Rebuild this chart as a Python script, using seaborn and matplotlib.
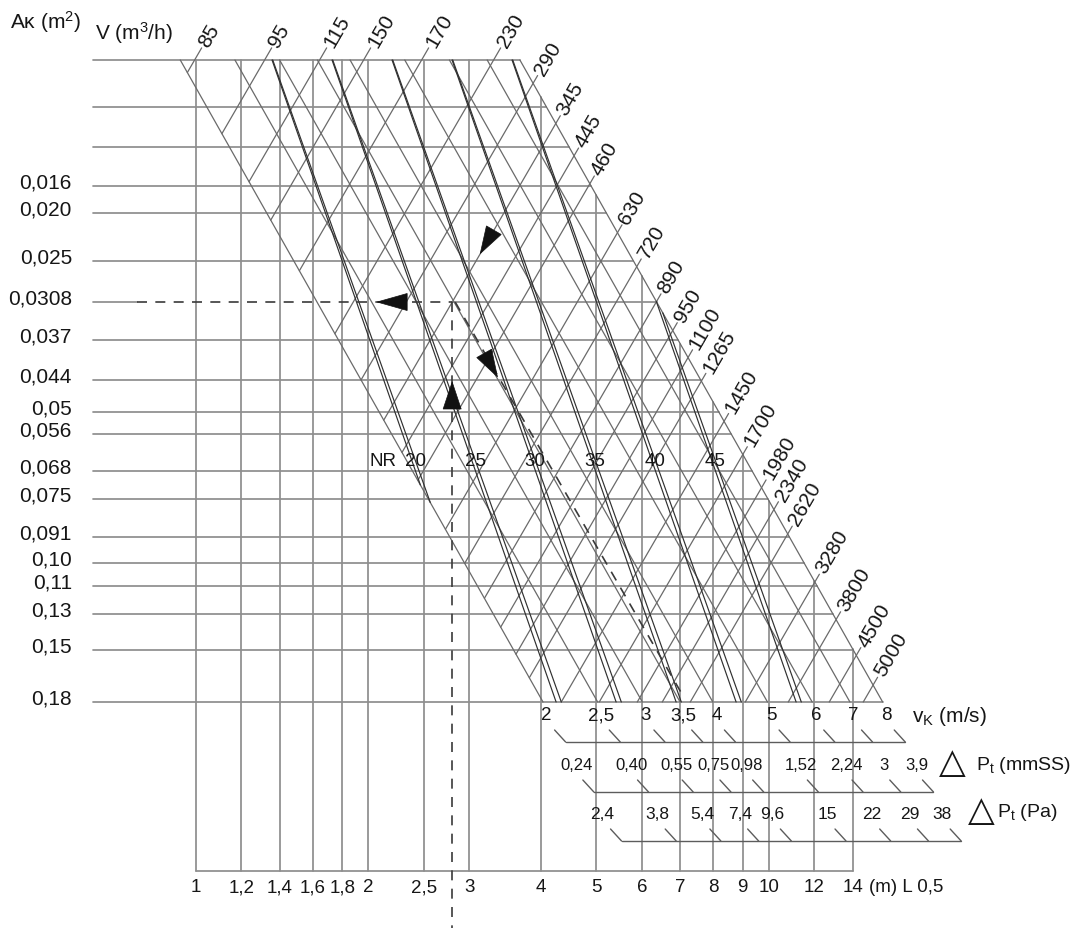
import numpy as np
import pandas as pd
import matplotlib
matplotlib.use("Agg")
import matplotlib.pyplot as plt
from matplotlib.patches import Polygon
import seaborn as sns

# ---------------- chart values ----------------
ak_labels = ["0,016", "0,020", "0,025", "0,0308", "0,037", "0,044", "0,05", "0,056",
             "0,068", "0,075", "0,091", "0,10", "0,11", "0,13", "0,15", "0,18"]

l_values = [1, 1.2, 1.4, 1.6, 1.8, 2, 2.5, 3, 4, 5, 6, 7, 8, 9, 10, 12, 14]
l_labels = ["1", "1,2", "1,4", "1,6", "1,8", "2", "2,5", "3", "4", "5", "6", "7",
            "8", "9", "10", "12", "14"]

vk_values = [2, 2.5, 3, 3.5, 4, 5, 6, 7, 8]
vk_labels = ["2", "2,5", "3", "3,5", "4", "5", "6", "7", "8"]
dp_mmss_labels = ["0,24", "0,40", "0,55", "0,75", "0,98", "1,52", "2,24", "3", "3,9"]
dp_pa_labels = ["2,4", "3,8", "5,4", "7,4", "9,6", "15", "22", "29", "38"]

v_labels = ["85", "95", "115", "150", "170", "230", "290", "345", "445", "460", "630",
            "720", "890", "950", "1100", "1265", "1450", "1700", "1980", "2340", "2620",
            "3280", "3800", "4500", "5000"]

nr_values = [20, 25, 30, 35, 40, 45]

# worked example traced with dashed lines
ex_v = "345"
ex_ak = "0,0308"
ex_l = 2.8
ex_vk = 3.5

# ---------------- sheet geometry (chart units, y grows downward) ----------------
W, H = 1075, 929
X_LEFT = 93.0
Y_TOP, Y_BOT = 61.0, 703.0
Y_LAXIS = 872.0
blank_rows = [61, 108, 148]
ak_rows = [187, 214, 262, 303, 341, 381, 413, 435, 472, 500, 538, 564, 587, 615, 651, 703]
# where each flow line meets the sheet (x + K_V*y = const)
v_line_c = [230, 300, 355, 399, 457, 529, 582, 628, 665, 697, 753, 792, 832, 865, 896,
            923, 969, 1007, 1045, 1070, 1098, 1153, 1196, 1237, 1271]

X_L0, S_L = 196.0, 248.8      # throw scale  x = X_L0 + S_L*ln(L)
X_V0, S_V = 543.0, 245.0      # velocity scale along the bottom edge
K_VK = 0.565                  # slope (dx/dy) of the velocity lines
K_V = 0.58                    # slope (-dx/dy) of the flow lines
K_NR = 0.349                  # slope of the noise rating lines
Y_NR = 462.0
NR_X0, NR_STEP = 412.0, 12.0

FS_MAIN = 15
FS_SMALL = 13.5
FS_SCALE = 12
INK = "#161616"


def lpos(L):
    return X_L0 + S_L * np.log(L)


def vkpos(v):
    return X_V0 + S_V * np.log(v / 2.0)


XL0 = vkpos(vk_values[0]) - K_VK * Y_BOT
XR0 = vkpos(vk_values[-1]) - K_VK * Y_BOT


def left_edge(y):
    return XL0 + K_VK * y


def right_edge(y):
    return XR0 + K_VK * y


sns.set_theme(style="white")
plt.rcParams["font.family"] = ["Liberation Sans", "DejaVu Sans"]
plt.rcParams["mathtext.fontset"] = "custom"
plt.rcParams["mathtext.rm"] = "Liberation Sans"
plt.rcParams["mathtext.it"] = "Liberation Sans:italic"
plt.rcParams["mathtext.bf"] = "Liberation Sans:bold"

fig = plt.figure(figsize=(W / 100, H / 100), dpi=100)
ax = fig.add_axes([0, 0, 1, 1])

rows = []


def seg(kind, x0, y0, x1, y1):
    sid = len(rows) // 2
    rows.append((kind, sid, x0, y0))
    rows.append((kind, sid, x1, y1))


# worked example point
ex_row = ak_rows[ak_labels.index(ex_ak)]
px, py = lpos(ex_l), ex_row

# Ak rows
for y in blank_rows + ak_rows:
    if y == ex_row:
        seg("grid", X_LEFT, y, 137, y)
        seg("grid", px, y, right_edge(y), y)
    else:
        seg("grid", X_LEFT, y, right_edge(y), y)

# throw verticals and axis
for L in l_values:
    x = lpos(L)
    y0 = Y_TOP if x <= right_edge(Y_TOP) else (x - XR0) / K_VK
    seg("grid", x, y0, x, Y_LAXIS)
seg("grid", lpos(l_values[0]), Y_LAXIS, lpos(l_values[-1]), Y_LAXIS)

# velocity lines
for v in vk_values:
    xb = vkpos(v)
    seg("mesh", xb - K_VK * (Y_BOT - Y_TOP), Y_TOP, xb, Y_BOT)

# flow lines with their labels
u = np.array([K_V, -1.0]) / np.hypot(K_V, 1.0)
for c, lab in zip(v_line_c, v_labels):
    y_lo = min(Y_BOT, (c - XL0) / (K_V + K_VK))
    x_lo = c - K_V * y_lo
    yr = (c - XR0) / (K_V + K_VK)
    if yr > Y_TOP:
        y_hi, ext = yr, 9.0
    else:
        y_hi, ext = Y_TOP, 14.0
    x_hi = c - K_V * y_hi
    ex, ey = x_hi + u[0] * ext, y_hi + u[1] * ext
    seg("mesh", x_lo, y_lo, ex, ey)
    ax.text(ex + u[0] * 3, ey + u[1] * 3, lab, rotation=60, rotation_mode="anchor",
            ha="left", va="center", fontsize=FS_MAIN, color=INK)


def clipped_nr(b, k):
    """Noise rating line x = b + k*y clipped to the sheet."""
    y0 = Y_TOP
    if b + k * Y_TOP > right_edge(Y_TOP):
        y0 = (b - XR0) / (K_VK - k)
    y1 = Y_BOT
    if b + k * Y_BOT < left_edge(Y_BOT):
        y1 = (b - XL0) / (K_VK - k)
    return b + k * y0, y0, b + k * y1, y1


# noise rating lines (each drawn as a close pair)
for nr in nr_values:
    a = NR_X0 + NR_STEP * (nr - 20)
    b = a - K_NR * Y_NR
    seg("dark", *clipped_nr(b, K_NR))
    k2 = K_NR + 0.007
    b2 = (a + 3.5) - k2 * Y_NR
    seg("dark", *clipped_nr(b2, k2))
    ax.text(a + 3, Y_NR, str(nr), ha="center", va="center", fontsize=FS_SMALL, color=INK)
ax.text(383, Y_NR, "NR", ha="center", va="center", fontsize=FS_SMALL, color=INK)

# velocity / pressure scales under the sheet: (labels, row y, label shift, font size)
scale_rows = [(vk_labels, 743.0, -19, FS_SMALL),
              (dp_mmss_labels, 793.0, -17, FS_SCALE),
              (dp_pa_labels, 842.0, -19, FS_SCALE + 0.5)]
for labels, yr, shift, fs in scale_rows:
    xs = [vkpos(v) + K_VK * (yr - Y_BOT) for v in vk_values]
    seg("scale", xs[0], yr, xs[-1], yr)
    for x, lab in zip(xs, labels):
        seg("scale", x - 11, yr - 12, x, yr)
        ax.text(x + shift, yr - 27, lab, ha="center", va="center", fontsize=fs,
                color=INK)

df = pd.DataFrame(rows, columns=["kind", "seg", "x", "y"])
styles = {
    "grid": ("#8e8e8e", 1.25),
    "mesh": ("#6a6a6a", 0.9),
    "scale": ("#5c5c5c", 1.0),
    "dark": ("#303030", 0.85),
}
for kind, (col, lw) in styles.items():
    sub = df[df["kind"] == kind]
    sns.lineplot(data=sub, x="x", y="y", units="seg", estimator=None, sort=False,
                 color=col, linewidth=lw, ax=ax, legend=False)

# dashed trace of the example
dash_rows = []
for sid, (x0, y0, x1, y1) in enumerate([
        (137, py, px, py),
        (px, py, px, H),
        (px + 3, py, vkpos(ex_vk) + 3, Y_BOT - 6)]):
    dash_rows += [(sid, x0, y0), (sid, x1, y1)]
dash_df = pd.DataFrame(dash_rows, columns=["seg", "x", "y"])
sns.lineplot(data=dash_df, x="x", y="y", units="seg", estimator=None, sort=False,
             color="#3a3a3a", linewidth=1.2, linestyle=(0, (6, 5)), ax=ax, legend=False)


def arrow(tip, d, length, width):
    d = np.asarray(d, float)
    d = d / np.hypot(*d)
    n = np.array([-d[1], d[0]])
    tip = np.asarray(tip, float)
    base = tip - d * length
    ax.add_patch(Polygon([tip, base + n * width / 2, base - n * width / 2],
                         closed=True, facecolor="#111111", edgecolor="#111111", lw=0.5,
                         zorder=5))


p = np.array([px, py])
dvk = np.array([K_VK, 1.0]) / np.hypot(K_VK, 1.0)
arrow(p + u * 56, -u, 27, 17)
arrow(p + np.array([-75.0, 0.0]), (-1, 0), 30, 17)
arrow(p + np.array([3.0, 0.0]) + dvk * 86, dvk, 27, 17)
arrow(p + np.array([0.0, 80.0]), (0, -1), 27, 18)

# Ak labels and headers
for y, lab in zip(ak_rows, ak_labels):
    ax.text(72, y - 4, lab, ha="right", va="center", fontsize=FS_MAIN, color=INK)
ax.text(10, 22, "A\u03ba (m$^2$)", ha="left", va="center", fontsize=FS_MAIN, color=INK)
ax.text(95, 33, "V (m$^3$/h)", ha="left", va="center", fontsize=FS_MAIN, color=INK)

# throw axis labels
for L, lab in zip(l_values, l_labels):
    ax.text(lpos(L), 888, lab, ha="center", va="center", fontsize=FS_SMALL, color=INK)
ax.text(869, 888, "(m) L 0,5", ha="left", va="center", fontsize=FS_SMALL, color=INK)

# scale titles
ax.text(912, 717, "v$_{\\rm K}$ (m/s)", ha="left", va="center", fontsize=FS_MAIN, color=INK)
ax.text(952, 763, "\u25b3", ha="center", va="center", fontsize=25, color=INK,
        family=["DejaVu Sans"])
ax.text(976, 765, "P$_{\\rm t}$ (mmSS)", ha="left", va="center", fontsize=FS_SMALL + 0.5,
        color=INK)
ax.text(981, 811, "\u25b3", ha="center", va="center", fontsize=25, color=INK,
        family=["DejaVu Sans"])
ax.text(997, 813, "P$_{\\rm t}$ (Pa)", ha="left", va="center", fontsize=FS_SMALL + 0.5,
        color=INK)

ax.set_xlim(0, W)
ax.set_ylim(H, 0)
ax.axis("off")
fig.savefig("out.png", dpi=100)
